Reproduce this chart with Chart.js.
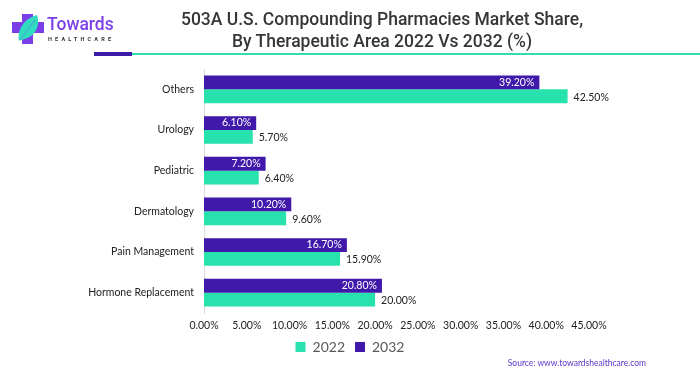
<!DOCTYPE html>
<html>
<head>
<meta charset="utf-8">
<script src="https://cdn.jsdelivr.net/npm/chart.js@4.4.0/dist/chart.umd.min.js"></script>
<style>
  body { margin: 0; background: #fff; }
  #wrap { position: relative; width: 700px; height: 375px; overflow: hidden; font-family: Lato, sans-serif; }
  #chart { position: absolute; left: 0; top: 0; }
  #title { position: absolute; left: 132px; width: 500px; top: 9px; text-align: center; font-family: Roboto, sans-serif; font-weight: 500; font-size: 17.5px; line-height: 21.5px; color: #363636; }
  #barPurple { position: absolute; left: 94px; top: 52px; width: 38px; height: 4px; background: #3d1ba6; }
  #lineGreen { position: absolute; left: 132px; top: 53px; width: 570px; height: 2px; background: #2ee0b0; }
  #logoText { position: absolute; left: 47px; top: 14px; font-family: Roboto, sans-serif; font-weight: 500; font-size: 17.5px; color: #7b3fe8; }
  #logoSub { position: absolute; left: 48px; top: 36px; font-family: Roboto, sans-serif; font-weight: 700; font-size: 5.5px; letter-spacing: 3.2px; color: #333; }
  #source { position: absolute; right: 54px; top: 358px; font-size: 8.5px; color: #5b35c9; }
</style>
</head>
<body>
<div id="wrap">
  <canvas id="chart" width="700" height="375"></canvas>
  <svg style="position:absolute;left:12px;top:14px" width="32" height="30" viewBox="0 0 32 30">
    <path d="M10 0 h11 v8 h11 v11 h-11 v11 h-11 v-11 h-10 v-11 h10 z" fill="#7b3fe8"/>
    <path d="M7 27 C5 15 13 4 25 1 C29 13 22 24 9 26 z" fill="#30dcc0"/>
    <path d="M8 26 C12 20 17 14 23 6" stroke="#7b3fe8" stroke-width="0.8" fill="none" opacity="0.5"/>
  </svg>
  <div id="logoText">Towards</div>
  <div id="logoSub">HEALTHCARE</div>
  <div id="title">503A U.S. Compounding Pharmacies Market Share,<br>By Therapeutic Area 2022 Vs 2032 (%)</div>
  <div id="barPurple"></div>
  <div id="lineGreen"></div>
  <div id="source">Source: www.towardshealthcare.com</div>
</div>
<script>
const categories = ["Others", "Urology", "Pediatric", "Dermatology", "Pain Management", "Hormone Replacement"];
const values2022 = [42.5, 5.7, 6.4, 9.6, 15.9, 20.0];
const values2032 = [39.2, 6.1, 7.2, 10.2, 16.7, 20.8];
const tickValues = [0, 5, 10, 15, 20, 25, 30, 35, 40, 45];

const green = "#28e2ae";
const purple = "#4019aa";

// draws the % labels: 2032 inside bar end (white), 2022 after bar end (dark)
const barLabels = {
  id: 'barLabels',
  afterDatasetsDraw(chart) {
    const ctx = chart.ctx;
    ctx.save();
    ctx.font = '10.5px Lato';
    ctx.textBaseline = 'middle';
    chart.data.datasets.forEach(function (ds, i) {
      const meta = chart.getDatasetMeta(i);
      meta.data.forEach(function (bar, j) {
        const txt = ds.data[j].toFixed(2) + '%';
        if (ds.label === '2032') {
          ctx.fillStyle = '#fff';
          ctx.textAlign = 'right';
          ctx.fillText(txt, bar.x - 5, bar.y);
        } else {
          ctx.fillStyle = '#222';
          ctx.textAlign = 'left';
          ctx.fillText(txt, bar.x + 6, bar.y + 1);
        }
      });
    });
    ctx.restore();
  }
};

new Chart(document.getElementById('chart').getContext('2d'), {
  type: 'bar',
  data: {
    labels: categories,
    datasets: [
      { label: '2032', data: values2032, backgroundColor: purple },
      { label: '2022', data: values2022, backgroundColor: green }
    ]
  },
  options: {
    responsive: false,
    animation: false,
    indexAxis: 'y',
    categoryPercentage: 0.68,
    barPercentage: 1,
    layout: { padding: { top: 69, right: 0, left: 0, bottom: 11 } },
    scales: {
      x: {
        min: 0,
        max: 45,
        afterBuildTicks: function (s) { s.ticks = tickValues.map(v => ({ value: v })); },
        afterFit: function (s) { s.height = 17; },
        grid: { display: false, drawTicks: false },
        border: { display: false },
        ticks: {
          font: { family: 'Lato', size: 10.5 },
          color: '#222',
          padding: 6,
          maxRotation: 0,
          callback: v => v.toFixed(2) + '%'
        }
      },
      y: {
        afterFit: function (s) { s.width = 204; },
        grid: { display: false, drawTicks: false },
        border: { display: true, color: '#d9d9d9' },
        ticks: { font: { family: 'Lato', size: 10.5 }, color: '#222', padding: 10 }
      },
      // empty right axis, only reserves the space right of the plot
      spacer: {
        type: 'linear',
        position: 'right',
        afterFit: function (s) { s.width = 111; },
        grid: { display: false },
        border: { display: false },
        ticks: { display: false }
      }
    },
    plugins: {
      legend: {
        position: 'bottom',
        labels: {
          boxWidth: 10,
          boxHeight: 10,
          padding: 10,
          font: { family: 'Lato', size: 14 },
          color: '#595959',
          sort: (a, b) => b.datasetIndex - a.datasetIndex
        }
      },
      tooltip: { enabled: false }
    }
  },
  plugins: [barLabels]
});
</script>
</body>
</html>
